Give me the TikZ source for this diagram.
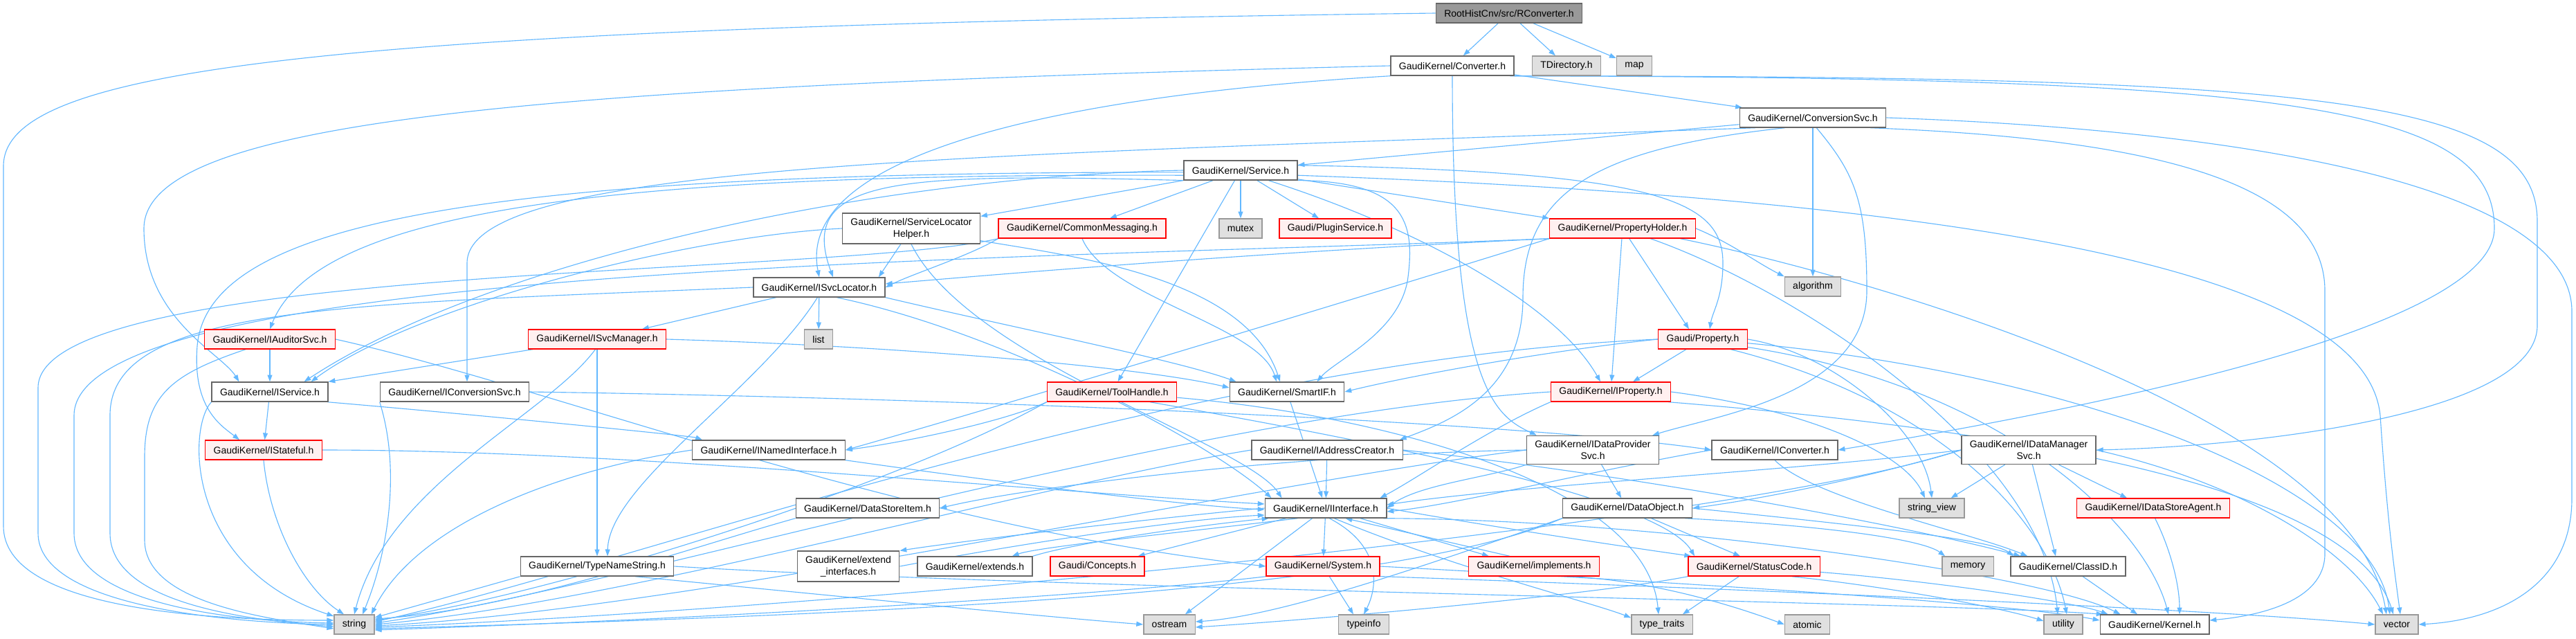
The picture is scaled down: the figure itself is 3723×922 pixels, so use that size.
\documentclass[tikz,border=0pt]{standalone}
\usepackage{fontspec}
\setmainfont{Liberation Sans}
\usetikzlibrary{arrows.meta,calc,backgrounds}
\definecolor{edgeblue}{HTML}{63B8FF}
\definecolor{docborder}{HTML}{666666}
\definecolor{sysborder}{HTML}{999999}
\definecolor{sysfill}{HTML}{E0E0E0}
\definecolor{truncfill}{HTML}{FFF0F0}
\definecolor{rootfill}{HTML}{999999}

\begin{document}
\begin{tikzpicture}[x=0.7143pt, y=-0.7143pt,
  hdr/.style={rectangle, draw=#1, line width=1pt, font=\fontsize{10}{12}\selectfont, inner xsep=8.5pt, inner ysep=5pt, minimum height=20pt, align=center},
  doc/.style={hdr=docborder, fill=white},
  trunc/.style={hdr=red, fill=truncfill},
  sys/.style={hdr=sysborder, fill=sysfill},
  root/.style={hdr=docborder, fill=rootfill},
  edge/.style={draw=edgeblue, line width=0.8pt, -{Triangle[length=7pt, width=5pt]}}
]
  \useasboundingbox (0,0) rectangle (3723,922);
  % top rows
  \node[root] (rconv) at (2181,19) {RootHistCnv/src/RConverter.h};
  \node[doc] (conv) at (2099,95) {GaudiKernel/Converter.h};
  \node[sys] (tdir) at (2264,95) {TDirectory.h};
  \node[sys] (map) at (2362,95) {map};
  \node[doc] (convsvc) at (2620,170) {GaudiKernel/ConversionSvc.h};
  \node[doc] (service) at (1793,246) {GaudiKernel/Service.h};
  % service helpers
  \node[doc] (slh) at (1317,330) {GaudiKernel/ServiceLocator\\Helper.h};
  \node[trunc] (cmsg) at (1564,330) {GaudiKernel/CommonMessaging.h};
  \node[sys] (mutex) at (1793,330) {mutex};
  \node[trunc] (plugin) at (1930,330) {Gaudi/PluginService.h};
  \node[trunc] (propholder) at (2345,330) {GaudiKernel/PropertyHolder.h};
  \node[doc] (isvcloc) at (1184,415) {GaudiKernel/ISvcLocator.h};
  \node[sys] (algorithm) at (2620,414) {algorithm};
  \node[sys] (list) at (1183,490) {list};
  \node[trunc] (iauditor) at (390,490) {GaudiKernel/IAuditorSvc.h};
  \node[trunc] (isvcmgr) at (863,490) {GaudiKernel/ISvcManager.h};
  \node[trunc] (property) at (2461,490) {Gaudi/Property.h};
  \node[doc] (iservice) at (390,566) {GaudiKernel/IService.h};
  \node[doc] (iconvsvc) at (657,566) {GaudiKernel/IConversionSvc.h};
  \node[trunc] (toolhandle) at (1607,566) {GaudiKernel/ToolHandle.h};
  \node[doc] (smartif) at (1860,566) {GaudiKernel/SmartIF.h};
  \node[trunc] (iproperty) at (2328,566) {GaudiKernel/IProperty.h};
  % interfaces
  \node[trunc] (istateful) at (381,650) {GaudiKernel/IStateful.h};
  \node[doc] (inamed) at (1111,650) {GaudiKernel/INamedInterface.h};
  \node[doc] (iaddrc) at (1918,650) {GaudiKernel/IAddressCreator.h};
  \node[doc] (idps) at (2302,650) {GaudiKernel/IDataProvider\\Svc.h};
  \node[doc] (iconverter) at (2565,650) {GaudiKernel/IConverter.h};
  \node[doc] (idms) at (2932,650) {GaudiKernel/IDataManager\\Svc.h};
  \node[doc] (dsitem) at (1254,734) {GaudiKernel/DataStoreItem.h};
  \node[doc] (iinterface) at (1916,734) {GaudiKernel/IInterface.h};
  \node[doc] (dataobj) at (2352,734) {GaudiKernel/DataObject.h};
  \node[sys] (strview) at (2792,734) {string\_view};
  \node[trunc] (idsa) at (3112,734) {GaudiKernel/IDataStoreAgent.h};
  \node[doc] (tnstring) at (863,818) {GaudiKernel/TypeNameString.h};
  \node[doc] (extif) at (1226,818) {GaudiKernel/extend\\\_interfaces.h};
  \node[doc] (extends) at (1409,818) {GaudiKernel/extends.h};
  \node[trunc] (concepts) at (1586,818) {Gaudi/Concepts.h};
  \node[trunc] (system) at (1912,818) {GaudiKernel/System.h};
  \node[trunc] (implements) at (2217,818) {GaudiKernel/implements.h};
  \node[trunc] (statuscode) at (2535,818) {GaudiKernel/StatusCode.h};
  \node[sys] (memory) at (2844,818) {memory};
  \node[doc] (classid) at (2989,818) {GaudiKernel/ClassID.h};
  % system headers
  \node[sys] (string) at (512,902) {string};
  \node[sys] (ostream) at (1690,902) {ostream};
  \node[sys] (typeinfo) at (1971,902) {typeinfo};
  \node[sys] (typetraits) at (2402,902) {type\_traits};
  \node[sys] (atomic) at (2612,902) {atomic};
  \node[sys] (utility) at (2982,902) {utility};
  \node[doc] (kernel) at (3114,902) {GaudiKernel/Kernel.h};
  \node[sys] (vector) at (3464,902) {vector};

  \begin{scope}[on background layer]
  \fill[white] (0,0) rectangle (3723,922);
  % RConverter.h
  \draw[edge] (rconv) -- (conv);
  \draw[edge] (rconv) -- (tdir);
  \draw[edge] (rconv) -- (map);
  \draw[edge] (rconv.west) .. controls (450,40) and (5,100) .. (5,240) -- (5,760) .. controls (5,880) and (300,896) .. ($(string.west)+(0,-6)$);
  % Converter.h
  \draw[edge] (conv) -- (convsvc);
  \draw[edge] (conv.south west) .. controls (1500,140) and (1150,230) .. (isvcloc.north);
  \draw[edge] (conv.west) .. controls (800,125) and (208,170) .. (208,330) .. controls (208,460) and (320,510) .. ($(iservice.north west)+(40,0)$);
  \draw[edge] (conv.south) .. controls (2099,560) and (2160,600) .. ($(idps.north west)+(15,0)$);
  \draw[edge] (conv.south east) .. controls (3300,112) and (3605,150) .. (3605,330) .. controls (3605,450) and (3200,560) .. (iconverter.east);
  \draw[edge] (conv.-10) .. controls (3350,110) and (3667,140) .. (3667,320) -- (3667,470) .. controls (3667,600) and (3250,645) .. (idms.east);
  % ConversionSvc.h
  \draw[edge] (convsvc) -- (service);
  \draw[edge] (convsvc.190) .. controls (1400,225) and (675,235) .. (675,380) -- ($(iconvsvc.north)+(18,0)$);
  \draw[edge] (convsvc) -- (algorithm);
  \draw[edge] (convsvc.200) .. controls (2300,215) and (2201,280) .. (2201,430) .. controls (2201,570) and (2090,610) .. ($(iaddrc.north east)+(-5,0)$);
  \draw[edge] (convsvc.-70) .. controls (2680,250) and (2698,290) .. (2698,420) .. controls (2698,570) and (2480,600) .. ($(idps.north east)+(-10,0)$);
  \draw[edge] (convsvc.east) .. controls (3300,190) and (3717,280) .. (3717,450) -- (3717,720) .. controls (3717,840) and (3620,895) .. (vector.east);
  \draw[edge] (convsvc.-10) .. controls (3100,200) and (3360,260) .. (3360,420) -- (3360,800) .. controls (3360,870) and (3260,890) .. ($(kernel.east)+(0,-6)$);
  % Service.h
  \draw[edge] (service) -- (slh);
  \draw[edge] (service) -- (cmsg);
  \draw[edge] (service) -- (mutex);
  \draw[edge] (service) -- (plugin);
  \draw[edge] (service) -- (propholder.north west);
  \draw[edge] (service) -- (toolhandle);
  \draw[edge] (service.-10) .. controls (2030,262) and (2045,320) .. (2035,400) .. controls (2025,480) and (1930,520) .. ($(smartif.north east)+(-40,0)$);
  \draw[edge] (service.-20) .. controls (2050,330) and (2250,440) .. ($(iproperty.north)+(-15,0)$);
  \draw[edge] (service.5) .. controls (2400,248) and (2490,290) .. (2490,380) .. controls (2490,430) and (2475,450) .. ($(property.north)+(10,0)$);
  \draw[edge] (service.190) .. controls (1300,250) and (1150,255) .. ($(isvcloc.north)+(20,0)$);
  \draw[edge] (service.west) .. controls (1250,255) and (700,380) .. ($(iservice.north east)+(-35,0)$);
  \draw[edge] (service.185) .. controls (900,250) and (460,300) .. (iauditor.north);
  \draw[edge] (service.182) .. controls (700,248) and (300,320) .. (285,500) .. controls (278,590) and (320,615) .. ($(istateful.north west)+(50,0)$);
  \draw[edge] (service.-5) .. controls (2900,290) and (3420,400) .. (3440,600) .. controls (3450,750) and (3460,820) .. ($(vector.north)+(5,0)$);
  % ServiceLocatorHelper.h
  \draw[edge] (slh) -- ($(isvcloc.north east)+(-10,0)$);
  \draw[edge] (slh.west) .. controls (1000,340) and (600,440) .. ($(iservice.north east)+(-25,0)$);
  \draw[edge] (slh.-10) .. controls (1550,370) and (1800,400) .. ($(smartif.north)+(-10,0)$);
  \draw[edge] (slh.south) .. controls (1400,520) and (1800,640) .. ($(iinterface.north west)+(25,0)$);
  % CommonMessaging.h
  \draw[edge] (cmsg.south west) .. controls (1400,370) and (1320,395) .. (isvcloc.east);
  \draw[edge] (cmsg.south) .. controls (1600,430) and (1820,470) .. ($(smartif.north)+(-15,0)$);
  \draw[edge] (cmsg.south west) .. controls (1200,400) and (55,380) .. (55,560) -- (55,770) .. controls (55,880) and (350,900) .. (string.west);
  % PropertyHolder.h
  \draw[edge] (propholder) -- ($(property.north)+(-20,0)$);
  \draw[edge] (propholder) -- (iproperty);
  \draw[edge] (propholder.south west) .. controls (1800,365) and (1400,400) .. ($(isvcloc.east)+(0,-5)$);
  \draw[edge] (propholder.south west) .. controls (1900,450) and (1400,600) .. (inamed.east);
  \draw[edge] (propholder.east) .. controls (2500,350) and (2540,380) .. (algorithm.north west);
  \draw[edge] (propholder.-10) .. controls (2700,400) and (3400,600) .. ($(vector.north)+(-15,0)$);
  \draw[edge] (propholder.-20) .. controls (2600,420) and (2950,650) .. ($(utility.north)+(-8,0)$);
  \draw[edge] (propholder.south west) .. controls (1500,375) and (107,380) .. (107,600) -- (107,770) .. controls (107,875) and (350,898) .. ($(string.west)+(0,-2)$);
  % ISvcLocator.h
  \draw[edge] (isvcloc) -- ($(isvcmgr.north)+(65,0)$);
  \draw[edge] (isvcloc) -- (list);
  \draw[edge] (isvcloc.-100) .. controls (1100,560) and (880,700) .. ($(tnstring.north)+(15,0)$);
  \draw[edge] (isvcloc.south east) .. controls (1450,470) and (1700,520) .. ($(smartif.north west)+(10,0)$);
  \draw[edge] (isvcloc.-30) .. controls (1450,480) and (1750,640) .. ($(iinterface.north west)+(10,0)$);
  \draw[edge] (isvcloc.west) .. controls (500,440) and (159,440) .. (159,600) -- (159,770) .. controls (159,870) and (350,895) .. ($(string.west)+(0,3)$);
  % IAuditorSvc.h
  \draw[edge] (iauditor) -- (iservice);
  \draw[edge] (iauditor.east) .. controls (800,560) and (1300,760) .. (system.west);
  \draw[edge] ($(iauditor.south west)+(60,0)$) .. controls (250,540) and (209,570) .. (209,660) -- (209,780) .. controls (209,870) and (380,892) .. ($(string.west)+(0,6)$);
  % ISvcManager.h
  \draw[edge] (isvcmgr) -- (iservice.north east);
  \draw[edge] (isvcmgr) -- (tnstring);
  \draw[edge] (isvcmgr.east) .. controls (1300,500) and (1650,530) .. ($(smartif.west)+(0,-6)$);
  \draw[edge] (isvcmgr.-100) .. controls (790,600) and (560,700) .. (string.north);
  % Gaudi/Property.h
  \draw[edge] (property) -- ($(iproperty.north east)+(-55,0)$);
  \draw[edge] (property.west) .. controls (2250,505) and (2050,540) .. (smartif.east);
  \draw[edge] (property.west) .. controls (1700,520) and (900,820) .. ($(string.east)+(0,-4)$);
  \draw[edge] (property.east) .. controls (2650,510) and (2780,620) .. (strview.north);
  \draw[edge] (property.-10) .. controls (2900,560) and (3100,760) .. ($(kernel.north)+(20,0)$);
  \draw[edge] (property.-20) .. controls (2800,580) and (2960,750) .. ($(utility.north)+(5,0)$);
  \draw[edge] (property.-5) .. controls (3000,540) and (3430,700) .. ($(vector.north)+(-10,0)$);
  % IService.h
  \draw[edge] (iservice) -- (istateful);
  \draw[edge] (iservice.-10) .. controls (700,600) and (1000,630) .. ($(inamed.north west)+(15,0)$);
  \draw[edge] (iservice.south west) .. controls (270,620) and (270,820) .. ($(string.west)+(0,-12)$);
  % IConversionSvc.h
  \draw[edge] (iconvsvc.east) .. controls (1400,575) and (2200,610) .. (iconverter.west);
  \draw[edge] (iconvsvc.south west) .. controls (580,680) and (560,800) .. ($(string.north)+(12,0)$);
  % ToolHandle.h
  \draw[edge] (toolhandle.south west) .. controls (1450,610) and (1300,640) .. (inamed.east);
  \draw[edge] (toolhandle.south west) .. controls (1300,700) and (800,860) .. ($(string.east)+(0,-6)$);
  \draw[edge] (toolhandle.-15) .. controls (2000,640) and (2400,720) .. ($(statuscode.north west)+(10,0)$);
  \draw[edge] (toolhandle.-5) .. controls (2000,600) and (2380,700) .. ($(typetraits.north)+(-5,0)$);
  % SmartIF.h
  \draw[edge] (smartif) -- (iinterface);
  % IProperty.h
  \draw[edge] (iproperty.south west) .. controls (2150,620) and (2050,690) .. ($(iinterface.north east)+(-10,0)$);
  \draw[edge] (iproperty.west) .. controls (1700,600) and (900,850) .. ($(string.east)+(0,-2)$);
  \draw[edge] (iproperty.east) .. controls (2600,590) and (2750,650) .. ($(strview.north)+(-10,0)$);
  \draw[edge] (iproperty.-10) .. controls (2900,620) and (3400,700) .. ($(vector.north)+(-5,0)$);
  % IStateful.h
  \draw[edge] (istateful.east) .. controls (900,650) and (1500,710) .. ($(iinterface.west)+(0,-6)$);
  \draw[edge] (istateful.south) .. controls (390,760) and (440,850) .. ($(string.north)+(-15,0)$);
  % INamedInterface.h
  \draw[edge] (inamed.south east) .. controls (1400,690) and (1700,730) .. ($(iinterface.west)+(0,2)$);
  \draw[edge] (inamed.west) .. controls (800,680) and (600,760) .. ($(string.north east)+(-5,0)$);
  % IAddressCreator.h
  \draw[edge] (iaddrc) -- (iinterface);
  \draw[edge] (iaddrc.east) .. controls (2400,690) and (2800,770) .. ($(classid.north west)+(15,0)$);
  \draw[edge] (iaddrc.west) .. controls (1500,700) and (900,870) .. (string.east);
  % IDataProviderSvc.h
  \draw[edge] (idps.west) .. controls (1900,655) and (1500,700) .. (dsitem.east);
  \draw[edge] (idps.south west) .. controls (2150,690) and (2050,700) .. (iinterface.east);
  \draw[edge] (idps) -- (dataobj);
  \draw[edge] (idps.west) .. controls (1800,700) and (1000,880) .. ($(string.east)+(0,2)$);
  % IConverter.h
  \draw[edge] (iconverter.west) .. controls (2300,680) and (2100,730) .. ($(iinterface.east)+(0,5)$);
  \draw[edge] (iconverter.south) .. controls (2620,720) and (2850,770) .. ($(classid.north west)+(25,0)$);
  % IDataManagerSvc.h
  \draw[edge] (idms) -- ($(strview.north east)+(-20,0)$);
  \draw[edge] (idms) -- ($(classid.north)+(-18,0)$);
  \draw[edge] (idms) -- ($(idsa.north)+(-38,0)$);
  \draw[edge] (idms.east) .. controls (3250,700) and (3400,800) .. ($(vector.north)+(-20,0)$);
  \draw[edge] (idms.west) .. controls (2600,680) and (2200,700) .. ($(iinterface.east)+(0,-5)$);
  \draw[edge] (idms.west) .. controls (2700,690) and (2550,720) .. (dataobj.east);
  \draw[edge] (idms.west) .. controls (2500,760) and (1200,880) .. ($(string.east)+(0,4)$);
  % DataStoreItem.h
  \draw[edge] (dsitem.south west) .. controls (1000,790) and (750,880) .. ($(string.east)+(0,-8)$);
  % IInterface.h
  \draw[edge] (iinterface.west) .. controls (1700,745) and (1400,780) .. (extif.north east);
  \draw[edge] (extif.east) .. controls (1450,790) and (1700,750) .. ($(iinterface.west)+(0,10)$);
  \draw[edge] (iinterface.200) .. controls (1700,770) and (1500,790) .. ($(extends.north east)+(-30,0)$);
  \draw[edge] (extends.north east) .. controls (1550,785) and (1720,760) .. ($(iinterface.south west)+(6,0)$);
  \draw[edge] (iinterface) -- ($(concepts.north east)+(-10,0)$);
  \draw[edge] (iinterface) -- (system);
  \draw[edge] (iinterface) -- ($(implements.north west)+(30,0)$);
  \draw[edge] ($(implements.north west)+(60,0)$) -- ($(iinterface.south east)+(-60,0)$);
  \draw[edge] (iinterface.east) .. controls (2150,760) and (2350,790) .. ($(statuscode.north west)+(5,0)$);
  \draw[edge] (iinterface) -- ($(ostream.north east)+(-15,0)$);
  \draw[edge] (iinterface.-70) .. controls (2000,790) and (1990,850) .. (typeinfo.north);
  \draw[edge] (iinterface.-50) .. controls (2100,820) and (2300,870) .. ($(typetraits.north west)+(0,5)$);
  \draw[edge] (iinterface.-10) .. controls (2400,750) and (2950,830) .. ($(kernel.north west)+(30,0)$);
  % DataObject.h
  \draw[edge] (dataobj) -- ($(statuscode.north)+(-20,0)$);
  \draw[edge] (dataobj.east) .. controls (2700,760) and (2880,780) .. ($(classid.north west)+(5,0)$);
  \draw[edge] (dataobj.-10) .. controls (2650,760) and (2780,780) .. ($(memory.north west)+(5,0)$);
  \draw[edge] (dataobj.south west) .. controls (2050,820) and (1850,890) .. ($(ostream.east)+(0,-4)$);
  \draw[edge] (dataobj.south west) .. controls (2000,860) and (1200,890) .. ($(string.east)+(0,6)$);
  % IDataStoreAgent.h
  \draw[edge] (idsa.-80) .. controls (3140,800) and (3150,850) .. ($(kernel.north)+(36,0)$);
  % TypeNameString.h
  \draw[edge] (tnstring.south west) -- ($(string.east)+(0,-10)$);
  \draw[edge] (tnstring.east) .. controls (1500,850) and (2800,870) .. ($(kernel.north west)+(5,0)$);
  \draw[edge] (tnstring.-15) .. controls (1200,860) and (1500,890) .. (ostream.west);
  % System.h
  \draw[edge] (system) -- ($(typeinfo.north)+(-15,0)$);
  \draw[edge] (system.south west) .. controls (1600,860) and (1000,895) .. ($(string.east)+(0,8)$);
  \draw[edge] (system.east) .. controls (2400,840) and (2900,870) .. ($(kernel.west)+(0,-6)$);
  \draw[edge] (system.-10) .. controls (2500,850) and (3200,880) .. (vector.west);
  % implements.h
  \draw[edge] (implements.-15) .. controls (2400,840) and (2520,880) .. (atomic.west);
  % StatusCode.h
  \draw[edge] (statuscode.south west) .. controls (2300,860) and (1900,895) .. ($(ostream.east)+(0,4)$);
  \draw[edge] (statuscode) -- ($(typetraits.north east)+(-15,0)$);
  \draw[edge] (statuscode.-15) .. controls (2750,850) and (2900,880) .. ($(utility.west)+(0,-5)$);
  \draw[edge] (statuscode.-5) .. controls (2800,840) and (3000,870) .. ($(kernel.north west)+(12,0)$);
  % ClassID.h
  \draw[edge] (classid) -- ($(kernel.north)+(-25,0)$);
  \end{scope}
\end{tikzpicture}
\end{document}
